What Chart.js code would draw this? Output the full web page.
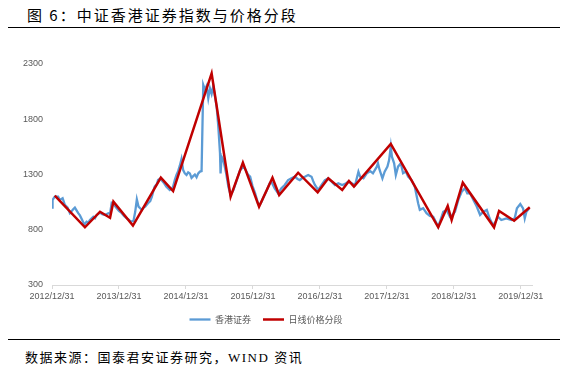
<!DOCTYPE html>
<html>
<head>
<meta charset="utf-8">
<script src="https://cdn.jsdelivr.net/npm/chart.js@4.4.1/dist/chart.umd.min.js"></script>
<style>
  html, body { margin: 0; padding: 0; background: #fff; }
  body { width: 565px; height: 370px; position: relative; overflow: hidden; }
  .title { position: absolute; left: 27px; top: 4px; font: 15px "Noto Sans CJK SC"; letter-spacing: 2px; color: #000; white-space: nowrap; }
  .rule { position: absolute; left: 8px; width: 552px; height: 0; border-top: 1.5px solid #000; }
  .source { position: absolute; left: 25px; top: 347px; font: 13px "Liberation Serif", "Noto Sans CJK SC"; letter-spacing: 1.5px; color: #000; white-space: nowrap; }
  #wrap { position: absolute; left: 0; top: 40px; width: 565px; height: 294px; }
</style>
</head>
<body>
<div class="title">图 6：中证香港证券指数与价格分段</div>
<div class="rule" style="top:27px"></div>
<div id="wrap"><canvas id="chart"></canvas></div>
<div class="rule" style="top:339px"></div>
<div class="source">数据来源：国泰君安证券研究，WIND 资讯</div>

<script>
// Data (x = months since 2012/12/31)
const yearLabels = ['2012/12/31', '2013/12/31', '2014/12/31', '2015/12/31', '2016/12/31', '2017/12/31', '2018/12/31', '2019/12/31'];
const yearTicks = [0, 12, 24, 36, 48, 60, 72, 84];

// 香港证券 index
const hkMonths = [
  0, 0.1, 0.5, 1.1, 1.4, 1.9, 2.3, 2.8, 3.2, 3.8, 4.1, 4.4, 4.7, 5.0, 5.3, 5.8, 6.2, 6.5, 6.8, 7.4,
  7.7, 8.0, 8.6, 9.0, 9.5, 10.1, 10.4, 10.7, 11.0, 11.3, 11.6, 12.0, 12.5, 12.9, 13.4, 13.8, 14.1, 14.6, 14.9, 15.2,
  15.5, 15.8, 16.1, 16.4, 16.7, 17.2, 17.6, 17.9, 18.1, 18.4, 18.8, 19.0, 19.3, 19.6, 20.1, 20.5, 21.1, 21.5, 21.7, 22.0,
  22.3, 22.6, 22.9, 23.2, 23.5, 23.8, 24.1, 24.4, 24.7, 25.0, 25.3, 25.6, 25.9, 26.2, 26.5, 26.8, 27.1, 27.4, 27.7, 28.0,
  28.3, 28.6, 28.9, 29.2, 29.5, 29.8, 30.1, 30.2, 30.4, 30.7, 31.2, 31.6, 32.0, 32.5, 33.1, 33.7, 34.3, 34.7, 35.1, 35.5,
  35.9, 36.4, 36.9, 37.2, 37.5, 37.8, 38.5, 39.0, 39.3, 39.9, 40.5, 41.1, 41.7, 42.3, 42.9, 43.5, 44.0, 44.4, 44.9, 45.3,
  45.9, 46.5, 46.8, 47.1, 47.7, 48.3, 48.9, 49.5, 50.1, 50.7, 51.3, 52.0, 52.5, 53.1, 53.7, 54.3, 54.9, 55.2, 55.8, 56.4,
  57.0, 57.5, 58.2, 58.4, 58.7, 59.2, 59.6, 60.1, 60.4, 60.7, 60.9, 61.3, 61.6, 62.0, 62.5, 62.9, 63.4, 63.8, 64.4, 65.0,
  65.6, 65.9, 66.5, 67.1, 67.7, 68.3, 68.9, 69.2, 69.6, 70.1, 70.7, 71.3, 71.7, 72.2, 72.8, 73.4, 74.0, 74.4, 74.9, 75.5,
  76.1, 76.7, 77.3, 77.9, 78.4, 79.0, 79.5, 79.9, 80.5, 81.4, 82.3, 82.9, 83.3, 83.9, 84.4, 84.7, 85.0, 85.5
];
const hkValues = [
  1000, 1070, 1100, 1100, 1070, 1085, 1025, 1000, 950, 985, 1000, 975, 950, 930, 900, 845, 873, 865, 888, 918,
  905, 934, 955, 940, 934, 950, 945, 1045, 1040, 1015, 994, 970, 950, 925, 903, 890, 873, 880, 960, 1075,
  1010, 995, 979, 1000, 1010, 1040, 1060, 1100, 1140, 1190, 1215, 1250, 1260, 1250, 1220, 1190, 1160, 1175, 1190, 1250,
  1296, 1330, 1380, 1440, 1340, 1310, 1296, 1320, 1310, 1270, 1285, 1300, 1275, 1310, 1326, 1330, 2110, 2065, 2100, 1990,
  2080, 2030, 2100, 2005, 1915, 1733, 1492, 1310, 1461, 1431, 1311, 1190, 1114, 1160, 1250, 1340, 1371, 1341, 1300, 1280,
  1200, 1130, 1040, 1025, 1050, 1085, 1160, 1220, 1235, 1175, 1130, 1175, 1205, 1250, 1265, 1280, 1260, 1250, 1270, 1280,
  1296, 1280, 1240, 1205, 1160, 1205, 1250, 1265, 1235, 1205, 1220, 1205, 1215, 1235, 1220, 1205, 1325, 1280, 1265, 1311,
  1330, 1311, 1371, 1401, 1341, 1265, 1326, 1371, 1431, 1552, 1461, 1401, 1296, 1371, 1401, 1311, 1326, 1280, 1250, 1190,
  1040, 980, 995, 950, 925, 918, 858, 828, 888, 963, 979, 918, 933, 963, 1070, 1144, 1175, 1130, 1130, 1070,
  1010, 934, 963, 979, 903, 843, 873, 918, 888, 903, 888, 903, 994, 1033, 994, 903, 963, 994
];

// 日线价格分段 (segment vertices)
const segMonths = [0.5, 5.9, 8.6, 10.4, 11.0, 14.5, 19.5, 21.7, 28.6, 32.0, 34.2, 37.1, 39.5, 40.7, 44.1, 47.6, 49.5, 52.0, 53.2, 54.1, 60.7, 69.2, 70.9, 71.6, 73.6, 79.2, 80.1, 82.8, 85.6];
const segValues = [1108, 822, 963, 909, 1054, 837, 1271, 1150, 2216, 1099, 1407, 1009, 1271, 1114, 1316, 1139, 1266, 1160, 1241, 1190, 1576, 822, 1015, 888, 1226, 822, 970, 882, 1003];

const toPoints = (xs, ys) => xs.map((x, i) => ({ x, y: ys[i] }));

const tickFont = { family: 'Liberation Sans', size: 9 };
const tickColor = '#595959';

const ctx = document.getElementById('chart').getContext('2d');
new Chart(ctx, {
  type: 'line',
  data: {
    datasets: [
      {
        label: '香港证券',
        data: toPoints(hkMonths, hkValues),
        borderColor: '#5B9BD5',
        backgroundColor: '#5B9BD5',
        borderWidth: 2.3,
        pointRadius: 0,
        order: 1
      },
      {
        label: '日线价格分段',
        data: toPoints(segMonths, segValues),
        borderColor: '#C00000',
        backgroundColor: '#C00000',
        borderWidth: 2.5,
        pointRadius: 0,
        order: 0
      }
    ]
  },
  options: {
    responsive: true,
    maintainAspectRatio: false,
    animation: false,
    layout: { padding: { top: 24, right: 33, left: 0, bottom: 0 } },
    scales: {
      x: {
        type: 'linear',
        min: 0,
        max: 86,
        afterBuildTicks: scale => { scale.ticks = yearTicks.map(v => ({ value: v })); },
        afterFit: scale => { scale.height = 18; },
        ticks: {
          callback: v => yearLabels[yearTicks.indexOf(v)],
          maxRotation: 0,
          autoSkip: false,
          padding: 2,
          font: tickFont,
          color: tickColor
        },
        grid: { drawOnChartArea: false, color: '#d9d9d9', tickLength: 4 },
        border: { color: '#d9d9d9' }
      },
      y: {
        min: 300,
        max: 2300,
        ticks: { stepSize: 500, padding: 9, font: tickFont, color: tickColor, callback: v => String(v) },
        grid: { display: false, drawTicks: false },
        border: { display: false },
        afterFit: scale => { scale.width = 52; }
      }
    },
    plugins: {
      legend: {
        position: 'bottom',
        labels: {
          usePointStyle: true,
          pointStyle: 'line',
          pointStyleWidth: 21,
          padding: 12,
          font: { family: 'Noto Sans CJK SC', size: 9 },
          color: tickColor,
          sort: (a, b) => a.datasetIndex - b.datasetIndex
        }
      },
      tooltip: { enabled: false }
    }
  }
});
</script>
</body>
</html>
